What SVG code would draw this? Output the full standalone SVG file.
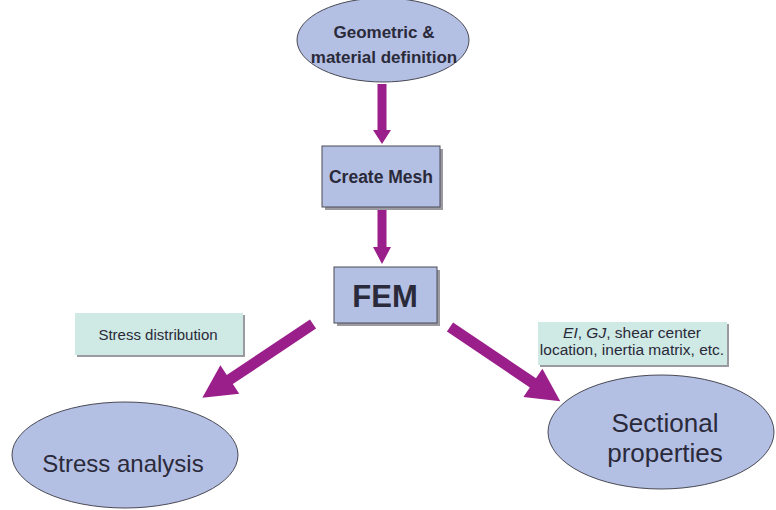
<svg xmlns="http://www.w3.org/2000/svg" width="776" height="510" viewBox="0 0 776 510">
<style>
.node{fill:#b3bfe3;stroke:#4a4a55;stroke-width:1}
.shadow{fill:#9a9aa0}
.lbl{fill:#cfe9e4}
.t{font-family:"Liberation Sans",Arial,sans-serif;fill:#2a2a3a;text-anchor:middle}
.arrow{fill:#9b1f8a}
</style>
<rect width="776" height="510" fill="#ffffff"/>
<g id="connectors">
<polygon class="arrow" points="377.5,84 386.5,84 386.5,130 391,130 382,144 373,130 377.5,130"/>
<polygon class="arrow" points="377.5,207 386.5,207 386.5,247 391,247 382,264 373,247 377.5,247"/>
<polygon class="arrow" transform="translate(313,324) rotate(146.3)" points="0,-5.5 100,-5.5 100,-17 133,0 100,17 100,5.5 0,5.5"/>
<polygon class="arrow" transform="translate(450,327) rotate(34)" points="0,-5.5 100,-5.5 100,-17 133,0 100,17 100,5.5 0,5.5"/>
</g>
<g id="geometric">
<ellipse class="node" cx="383" cy="40" rx="86" ry="42"/>
<text class="t" x="384" y="38" font-size="17" font-weight="bold">Geometric &amp;</text>
<text class="t" x="384" y="63" font-size="17" font-weight="bold">material definition</text>
</g>
<g id="mesh">
<rect class="shadow" x="325" y="149" width="118" height="61"/>
<rect class="node" x="322" y="146" width="118" height="61"/>
<text class="t" x="381" y="183" font-size="17.5" font-weight="bold">Create Mesh</text>
</g>
<g id="fem">
<rect class="shadow" x="337" y="270" width="103" height="56"/>
<rect class="node" x="334" y="267" width="103" height="56"/>
<text class="t" x="385" y="307" font-size="31" font-weight="bold">FEM</text>
</g>
<g id="stressdist">
<rect class="shadow" x="77" y="315" width="168" height="42"/>
<rect class="lbl" x="75" y="313" width="168" height="42"/>
<text class="t" x="158" y="340" font-size="15">Stress distribution</text>
</g>
<g id="props">
<rect class="shadow" x="540" y="324" width="189" height="43"/>
<rect class="lbl" x="538" y="322" width="189" height="43"/>
<text class="t" x="632" y="338" font-size="15.5"><tspan font-style="italic">EI</tspan>, <tspan font-style="italic">GJ</tspan>, shear center</text>
<text class="t" x="632" y="355" font-size="15.5">location, inertia matrix, etc.</text>
</g>
<g id="stress">
<ellipse class="node" cx="125" cy="455" rx="113" ry="53"/>
<text class="t" x="123" y="472" font-size="24">Stress analysis</text>
</g>
<g id="sectional">
<ellipse class="node" cx="661" cy="432" rx="113" ry="57"/>
<text class="t" x="665" y="432" font-size="26">Sectional</text>
<text class="t" x="665" y="462" font-size="26">properties</text>
</g>
</svg>
